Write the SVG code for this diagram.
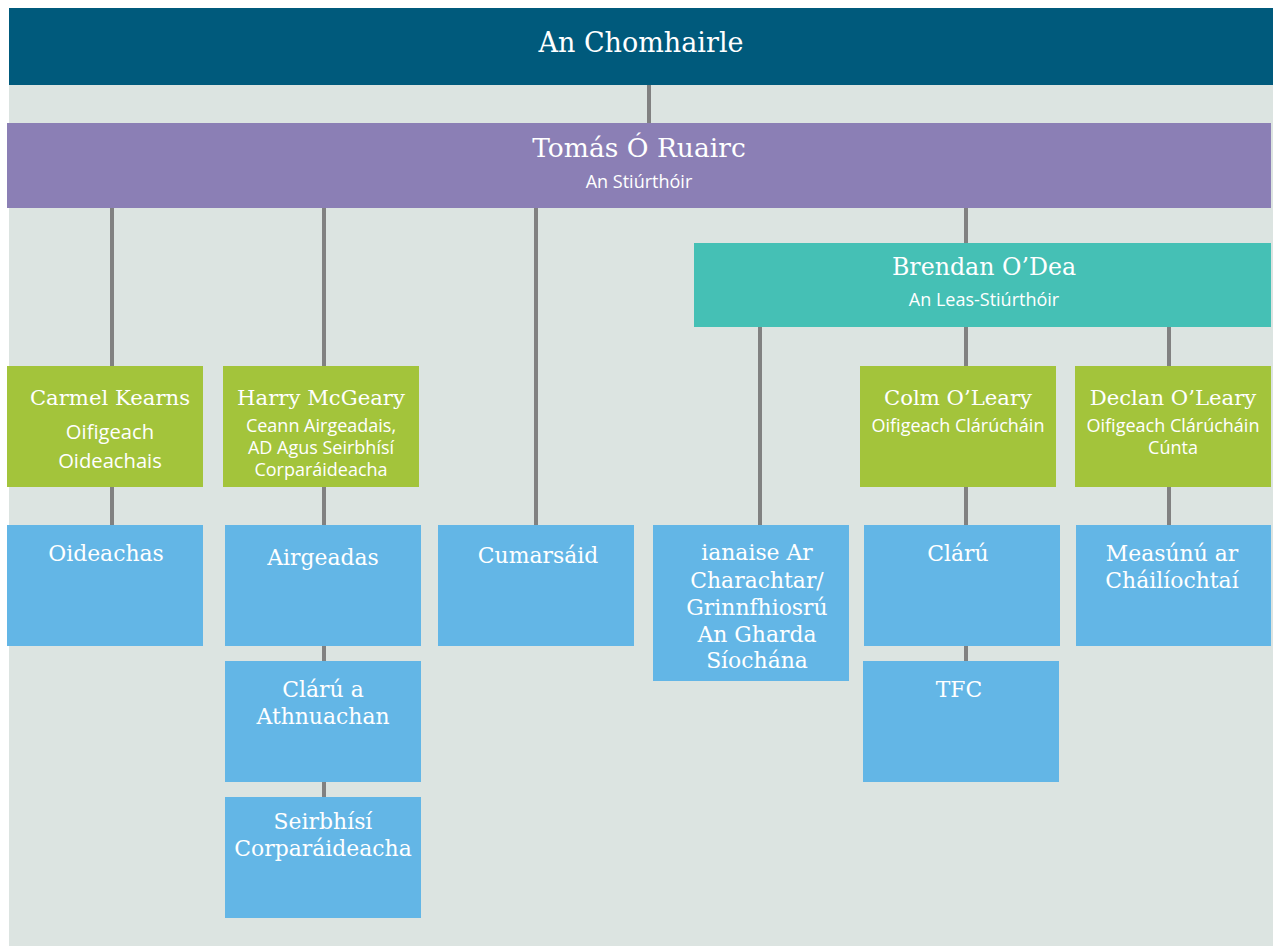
<svg xmlns="http://www.w3.org/2000/svg" width="1273" height="947" viewBox="0 0 1273 947">
<style>
.bg{fill:#dce4e1}
.top{fill:#005a7c}
.dir{fill:#8b7fb5}
.dep{fill:#45c0b5}
.mgr{fill:#a3c43b}
.unit{fill:#63b6e6}
.ln{stroke:#818181;stroke-width:4;fill:none}
text{fill:#ffffff;text-anchor:middle}
.slab{font-family:"DejaVu Serif","Liberation Serif",serif}
.sans{font-family:"Open Sans",Lato,"Liberation Sans",sans-serif}
.n20{font-size:21.2px}
.u22{font-size:21.9px}
.s18{font-size:18px}
.s20{font-size:20.2px}
</style>
<rect x="0" y="0" width="1273" height="947" fill="#ffffff"/>
<rect class="bg" x="9" y="8" width="1264" height="938"/>
<g id="connectors">
<line class="ln" x1="649" y1="85" x2="649" y2="123"/>
<line class="ln" x1="112" y1="208" x2="112" y2="525"/>
<line class="ln" x1="324" y1="208" x2="324" y2="797"/>
<line class="ln" x1="536" y1="208" x2="536" y2="525"/>
<line class="ln" x1="966" y1="208" x2="966" y2="243"/>
<line class="ln" x1="760" y1="327" x2="760" y2="525"/>
<line class="ln" x1="966" y1="327" x2="966" y2="661"/>
<line class="ln" x1="1169" y1="327" x2="1169" y2="525"/>
</g>
<g id="an-chomhairle">
<rect class="top" x="9" y="8" width="1264" height="77"/>
<text class="slab" x="641" y="52" font-size="27px">An Chomhairle</text>
</g>
<g id="tomas">
<rect class="dir" x="7" y="123" width="1264" height="85"/>
<text class="slab" x="639" y="157" font-size="26.5px">Tomás Ó Ruairc</text>
<text class="sans s18" x="639" y="188">An Stiúrthóir</text>
</g>
<g id="brendan">
<rect class="dep" x="694" y="243" width="577" height="84"/>
<text class="slab" x="984" y="275" font-size="23.7px">Brendan O’Dea</text>
<text class="sans s18" x="984" y="306">An Leas-Stiúrthóir</text>
</g>
<g id="carmel">
<rect class="mgr" x="7" y="366" width="196" height="121"/>
<text class="slab n20" x="110" y="405">Carmel Kearns</text>
<text class="sans s20" x="110" y="439">Oifigeach</text>
<text class="sans s20" x="110" y="468">Oideachais</text>
</g>
<g id="harry">
<rect class="mgr" x="223" y="366" width="196" height="121"/>
<text class="slab n20" x="321" y="405">Harry McGeary</text>
<text class="sans s18" x="321" y="432">Ceann Airgeadais,</text>
<text class="sans s18" x="321" y="454">AD Agus Seirbhísí</text>
<text class="sans s18" x="321" y="476">Corparáideacha</text>
</g>
<g id="colm">
<rect class="mgr" x="860" y="366" width="196" height="121"/>
<text class="slab n20" x="958" y="405">Colm O’Leary</text>
<text class="sans s18" x="958" y="432">Oifigeach Clárúcháin</text>
</g>
<g id="declan">
<rect class="mgr" x="1075" y="366" width="196" height="121"/>
<text class="slab n20" x="1173" y="405">Declan O’Leary</text>
<text class="sans s18" x="1173" y="432">Oifigeach Clárúcháin</text>
<text class="sans s18" x="1173" y="454">Cúnta</text>
</g>
<g id="oideachas">
<rect class="unit" x="7" y="525" width="196" height="121"/>
<text class="slab u22" x="106" y="561">Oideachas</text>
</g>
<g id="airgeadas">
<rect class="unit" x="225" y="525" width="196" height="121"/>
<text class="slab u22" x="323" y="565">Airgeadas</text>
</g>
<g id="cumarsaid">
<rect class="unit" x="438" y="525" width="196" height="121"/>
<text class="slab u22" x="538" y="563">Cumarsáid</text>
</g>
<g id="ianaise">
<rect class="unit" x="653" y="525" width="196" height="156"/>
<text class="slab u22" x="757" y="560">ianaise Ar</text>
<text class="slab u22" x="757" y="588">Charachtar/</text>
<text class="slab u22" x="757" y="615">Grinnfhiosrú</text>
<text class="slab u22" x="757" y="642">An Gharda</text>
<text class="slab u22" x="757" y="668">Síochána</text>
</g>
<g id="claru">
<rect class="unit" x="864" y="525" width="196" height="121"/>
<text class="slab u22" x="958" y="561">Clárú</text>
</g>
<g id="measunu">
<rect class="unit" x="1076" y="525" width="195" height="121"/>
<text class="slab u22" x="1172" y="561">Measúnú ar</text>
<text class="slab u22" x="1172" y="588">Cháilíochtaí</text>
</g>
<g id="claru-athnuachan">
<rect class="unit" x="225" y="661" width="196" height="121"/>
<text class="slab u22" x="323" y="697">Clárú a</text>
<text class="slab u22" x="323" y="724">Athnuachan</text>
</g>
<g id="tfc">
<rect class="unit" x="863" y="661" width="196" height="121"/>
<text class="slab u22" x="959" y="697">TFC</text>
</g>
<g id="seirbhisi">
<rect class="unit" x="225" y="797" width="196" height="121"/>
<text class="slab u22" x="323" y="829">Seirbhísí</text>
<text class="slab u22" x="323" y="856">Corparáideacha</text>
</g>
</svg>
